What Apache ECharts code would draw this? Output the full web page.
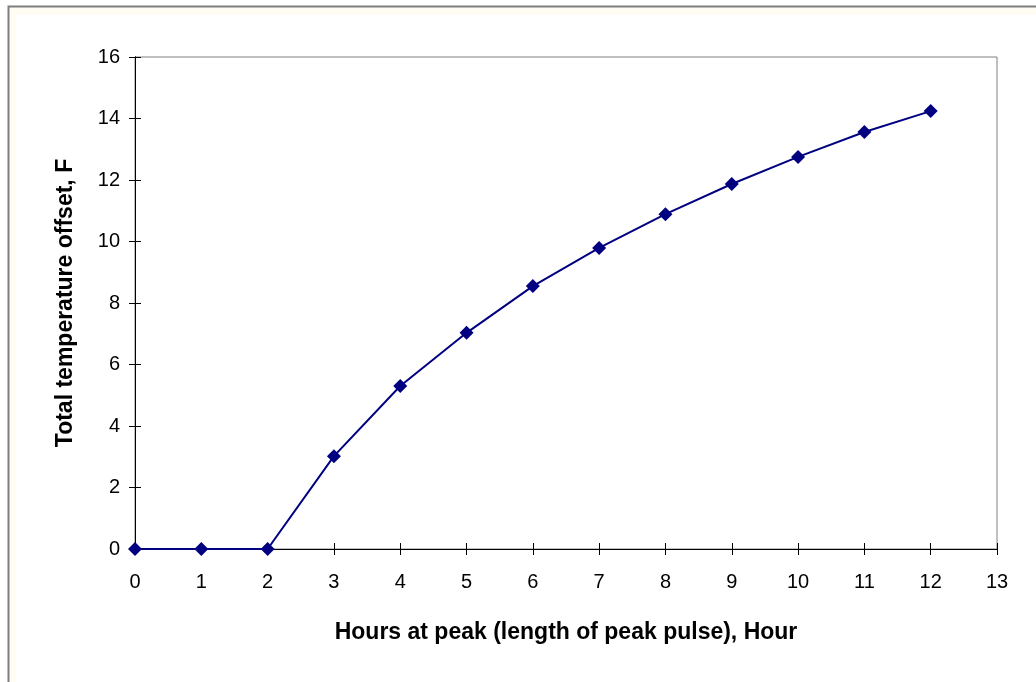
<!DOCTYPE html>
<html>
<head>
<meta charset="utf-8">
<script src="https://cdn.jsdelivr.net/npm/echarts@6/dist/echarts.min.js"></script>
<style>html,body{margin:0;padding:0;background:#fff;}#c{width:1036px;height:682px;}</style>
</head>
<body>
<div id="c"></div>
<script>
const hours = [0, 1, 2, 3, 4, 5, 6, 7, 8, 9, 10, 11, 12];
const offsetF = [0, 0, 0, 3.02, 5.3, 7.03, 8.55, 9.79, 10.89, 11.87, 12.75, 13.56, 14.24];
const xTitle = 'Hours at peak (length of peak pulse), Hour';
const yTitle = 'Total temperature offset, F';

const chart = echarts.init(document.getElementById('c'), null, {renderer: 'canvas'});
const font = 'Liberation Sans, Arial, sans-serif';
const axisCommon = {
  axisLine: {show: true, onZero: false, lineStyle: {color: '#000', width: 1}},
  splitLine: {show: false}
};
chart.setOption({
  animation: false,
  backgroundColor: '#ffffff',
  graphic: [
    {type: 'rect', z: -10, shape: {x: 8.5, y: 6.5, width: 1100, height: 1000},
     style: {fill: '#fffdf3', stroke: '#7f7f7f', lineWidth: 2}},
    {type: 'rect', z: -9, shape: {x: 16, y: 15, width: 1100, height: 1000},
     style: {fill: '#ffffff'}}
  ],
  grid: {left: 135, top: 57, right: 39, bottom: 133, show: true, borderColor: '#808080', borderWidth: 1, backgroundColor: '#ffffff'},
  xAxis: [
    Object.assign({}, axisCommon, {
      type: 'value', min: 0, max: 13, interval: 1, position: 'bottom',
      axisTick: {show: true, inside: false, length: 6, lineStyle: {color: '#000'}},
      axisLabel: {color: '#000', fontSize: 20, fontFamily: font, margin: 23},
      name: xTitle, nameLocation: 'middle', nameGap: 72,
      nameTextStyle: {color: '#000', fontSize: 23, fontWeight: 'bold', fontFamily: font}
    }),
    Object.assign({}, axisCommon, {
      type: 'value', min: 0, max: 13, interval: 1, position: 'bottom',
      axisTick: {show: true, inside: true, length: 6, lineStyle: {color: '#000'}},
      axisLabel: {show: false}
    })
  ],
  yAxis: [
    Object.assign({}, axisCommon, {
      type: 'value', min: 0, max: 16, interval: 2, position: 'left',
      axisTick: {show: true, inside: false, length: 6, lineStyle: {color: '#000'}},
      axisLabel: {color: '#000', fontSize: 20, fontFamily: font, margin: 15},
      name: yTitle, nameLocation: 'middle', nameGap: 58,
      nameTextStyle: {color: '#000', fontSize: 23, fontWeight: 'bold', fontFamily: font}
    }),
    Object.assign({}, axisCommon, {
      type: 'value', min: 0, max: 16, interval: 2, position: 'left',
      axisTick: {show: true, inside: true, length: 6, lineStyle: {color: '#000'}},
      axisLabel: {show: false}
    })
  ],
  series: [{
    type: 'line',
    data: hours.map((h, i) => [h, offsetF[i]]),
    symbol: 'diamond',
    symbolSize: 14,
    clip: false,
    lineStyle: {color: '#000080', width: 2},
    itemStyle: {color: '#000080'},
    z: 5
  }]
});
</script>
</body>
</html>
